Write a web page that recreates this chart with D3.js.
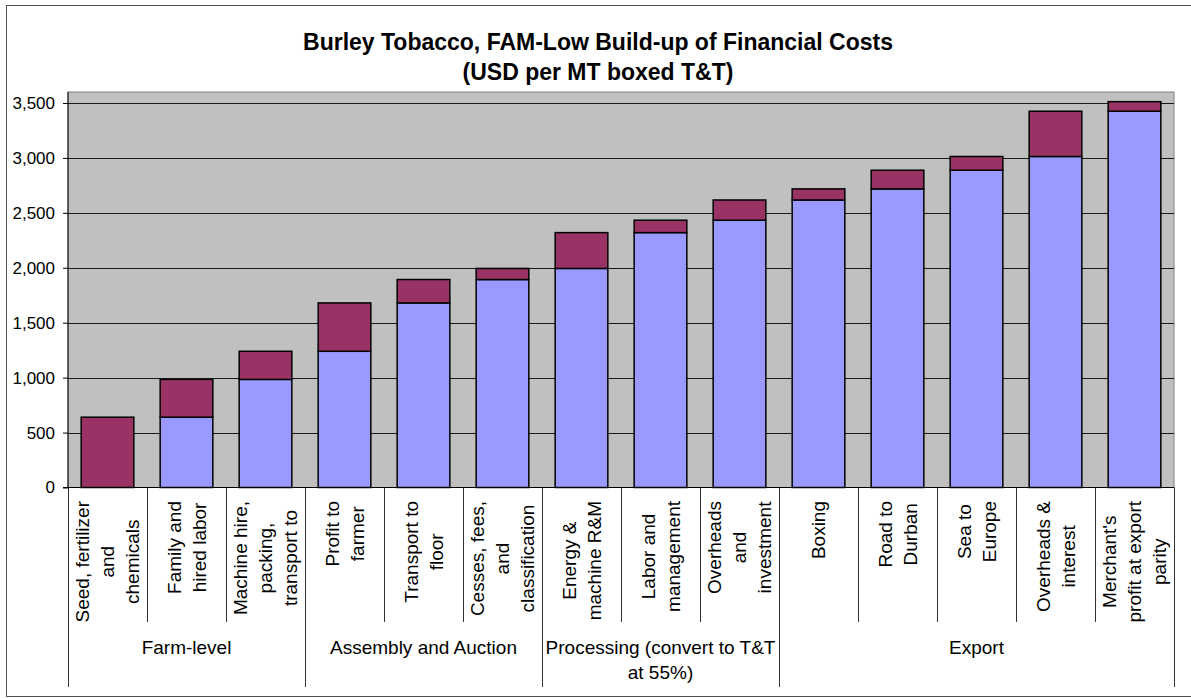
<!DOCTYPE html>
<html>
<head>
<meta charset="utf-8">
<script src="https://cdn.jsdelivr.net/npm/d3@7"></script>
<style>
  body { margin: 0; background: #fff; }
  text { font-family: "Liberation Sans", Arial, sans-serif; fill: #000; }
</style>
</head>
<body>
<svg id="chart" width="1191" height="698"></svg>
<script>
// Cost steps along the chain, one bar per step (line breaks as printed)
const categories = [
  "Seed, fertilizer\nand\nchemicals",
  "Family and\nhired labor",
  "Machine hire,\npacking,\ntransport to",
  "Profit to\nfarmer",
  "Transport to\nfloor",
  "Cesses, fees,\nand\nclassification",
  "Energy &\nmachine R&M",
  "Labor and\nmanagement",
  "Overheads\nand\ninvestment",
  "Boxing",
  "Road to\nDurban",
  "Sea to\nEurope",
  "Overheads &\ninterest",
  "Merchant's\nprofit at export\nparity"
];

// Stages of the chain and how many steps each one holds
const groupNames = ["Farm-level", "Assembly and Auction", "Processing (convert to T&T\nat 55%)", "Export"];
const groupSizes = [3, 3, 3, 5];

// Cumulative cost carried in from earlier steps (USD per MT)
const carriedCost = [0, 640, 984, 1240, 1680, 1893, 1994, 2320, 2433, 2617, 2718, 2888, 3013, 3425];
// Cost added by each step (USD per MT)
const addedCost = [640, 344, 256, 440, 213, 101, 326, 113, 184, 101, 170, 125, 412, 87];

const yTicks = [0, 500, 1000, 1500, 2000, 2500, 3000, 3500];
const titleLines = ["Burley Tobacco, FAM-Low Build-up of Financial Costs", "(USD per MT boxed T&T)"];

const svg = d3.select("#chart");
const plot = { left: 68, right: 1174, top: 92, bottom: 487.5 };

const x = d3.scaleBand()
  .domain(d3.range(categories.length))
  .range([plot.left, plot.right])
  .paddingInner(1 / 3)
  .paddingOuter(1 / 6);

const y = d3.scaleLinear().domain([0, 3600]).range([plot.bottom, plot.top]);

// Outer frame
svg.append("rect")
  .attr("x", 6.5).attr("y", 5.5)
  .attr("width", 1200).attr("height", 691)
  .attr("fill", "#fff").attr("stroke", "#505050").attr("stroke-width", 1);

// Title
const title = svg.append("text")
  .attr("text-anchor", "middle")
  .style("font-size", "23px").style("font-weight", "bold");
titleLines.forEach((t, i) => {
  title.append("tspan").attr("x", 598).attr("y", 50 + i * 30).text(t);
});

// Plot background
svg.append("rect")
  .attr("x", plot.left).attr("y", plot.top)
  .attr("width", plot.right - plot.left).attr("height", plot.bottom - plot.top)
  .attr("fill", "#C0C0C0").attr("stroke", "#808080").attr("stroke-width", 1);

// Gridlines
svg.append("g")
  .attr("transform", `translate(${plot.left},0)`)
  .call(d3.axisLeft(y).tickValues(yTicks.filter(d => d > 0)).tickSize(-(plot.right - plot.left)).tickFormat(""))
  .call(g => g.select(".domain").remove())
  .call(g => g.selectAll("line").attr("stroke", "#1a1a1a").attr("shape-rendering", "crispEdges"));

// Stacked bars: carried cost (blue) with the step's addition (maroon) on top
const bars = svg.append("g").attr("stroke", "#000").attr("stroke-width", 1.5);
bars.selectAll("rect.carried")
  .data(d3.range(categories.length).filter(i => carriedCost[i] > 0))
  .join("rect")
  .attr("class", "carried")
  .attr("x", i => x(i)).attr("width", x.bandwidth())
  .attr("y", i => y(carriedCost[i]))
  .attr("height", i => y(0) - y(carriedCost[i]))
  .attr("fill", "#9999FF");
bars.selectAll("rect.added")
  .data(d3.range(categories.length))
  .join("rect")
  .attr("class", "added")
  .attr("x", i => x(i)).attr("width", x.bandwidth())
  .attr("y", i => y(carriedCost[i] + addedCost[i]))
  .attr("height", i => y(carriedCost[i]) - y(carriedCost[i] + addedCost[i]))
  .attr("fill", "#993366");

// Value axis
svg.append("g")
  .attr("transform", `translate(${plot.left},0)`)
  .call(d3.axisLeft(y).tickValues(yTicks).tickFormat(d3.format(",")).tickSize(5).tickPadding(8))
  .call(g => g.select(".domain").attr("d", `M0,${plot.top}V${plot.bottom}`).attr("stroke", "#000"))
  .call(g => g.selectAll("line").attr("stroke", "#000"))
  .call(g => g.selectAll("text").style("font-size", "17px").style("font-family", "'Liberation Sans', Arial, sans-serif"));

// Category axis line
svg.append("line")
  .attr("x1", plot.left - 5).attr("x2", plot.right)
  .attr("y1", plot.bottom).attr("y2", plot.bottom)
  .attr("stroke", "#000");

// Separators between steps and between stages
const gap = (x.step() - x.bandwidth()) / 2;
const boundary = k => k < categories.length ? x(k) - gap : x(categories.length - 1) + x.bandwidth() + gap;
const groupEdges = [0];
groupSizes.forEach(s => groupEdges.push(groupEdges[groupEdges.length - 1] + s));

svg.append("g").selectAll("line")
  .data(d3.range(categories.length + 1))
  .join("line")
  .attr("x1", k => Math.round(boundary(k)) + 0.5)
  .attr("x2", k => Math.round(boundary(k)) + 0.5)
  .attr("y1", plot.bottom)
  .attr("y2", k => groupEdges.includes(k) ? 687 : 622)
  .attr("stroke", "#333");

// Step labels, rotated, lines centred on each other
const lineH = 25;
const labelTop = 501;
categories.forEach((label, i) => {
  const lines = label.split("\n");
  const cx = x(i) + x.bandwidth() / 2;
  const t = svg.append("text")
    .attr("transform", `translate(${cx},0) rotate(-90)`)
    .attr("text-anchor", "middle")
    .style("font-size", "19px");
  const spans = lines.map((ln, j) =>
    t.append("tspan")
      .attr("y", (j - (lines.length - 1) / 2) * lineH)
      .attr("dy", "0.35em")
      .text(ln));
  const maxLen = d3.max(spans, s => s.node().getComputedTextLength());
  spans.forEach(s => s.attr("x", -(labelTop + maxLen / 2)));
});

// Stage labels
groupNames.forEach((name, gi) => {
  const cx = (boundary(groupEdges[gi]) + boundary(groupEdges[gi + 1])) / 2;
  const t = svg.append("text").attr("text-anchor", "middle").style("font-size", "19px");
  name.split("\n").forEach((ln, j) => {
    t.append("tspan").attr("x", cx).attr("y", 654 + j * lineH).text(ln);
  });
});
</script>
</body>
</html>
